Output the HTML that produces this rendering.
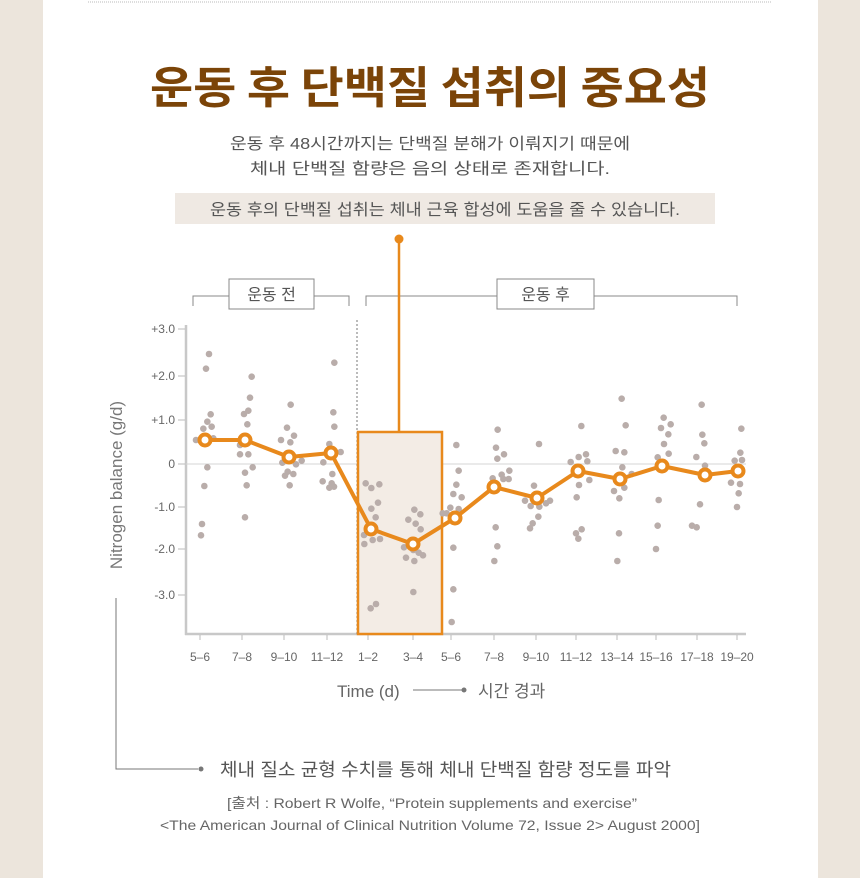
<!DOCTYPE html>
<html><head><meta charset="utf-8"><style>
html,body{margin:0;padding:0;background:#ece5dc;}
svg{display:block}
text{font-family:"Liberation Sans","Noto Sans CJK KR",sans-serif;}
</style></head><body>
<svg id="s" width="860" height="878" viewBox="0 0 860 878" xmlns="http://www.w3.org/2000/svg">
<rect x="0" y="0" width="860" height="878" fill="#ece5dc"/>
<rect x="43" y="0" width="775" height="878" fill="#fff"/>
<line x1="88" y1="2" x2="772" y2="2" stroke="#ddd" stroke-width="2" stroke-dasharray="1,1"/>
<text x="430" y="103" text-anchor="middle" font-size="44" font-weight="bold" fill="#7b4408" textLength="560" lengthAdjust="spacingAndGlyphs" style="font-family:'Noto Sans CJK KR',sans-serif">운동 후 단백질 섭취의 중요성</text>
<text x="430" y="149" text-anchor="middle" font-size="16" fill="#555" textLength="400" lengthAdjust="spacingAndGlyphs">운동 후 48시간까지는 단백질 분해가 이뤄지기 때문에</text>
<text x="430" y="174" text-anchor="middle" font-size="16" fill="#555" textLength="360" lengthAdjust="spacingAndGlyphs">체내 단백질 함량은 음의 상태로 존재합니다.</text>
<rect x="175" y="193" width="540" height="31" fill="#efe9e3"/>
<text x="445" y="215" text-anchor="middle" font-size="16" fill="#555" textLength="470" lengthAdjust="spacingAndGlyphs">운동 후의 단백질 섭취는 체내 근육 합성에 도움을 줄 수 있습니다.</text>
<!-- brackets -->
<g stroke="#888" stroke-width="1" fill="none">
<polyline points="193,306 193,296 229,296"/><polyline points="314,296 349,296 349,306"/>
<polyline points="366,306 366,296 497,296"/><polyline points="594,296 737,296 737,306"/>
</g>
<rect x="229" y="279" width="85" height="30" fill="#fff" stroke="#888"/>
<text x="271.5" y="300" text-anchor="middle" font-size="16" fill="#555">운동 전</text>
<rect x="497" y="279" width="97" height="30" fill="#fff" stroke="#888"/>
<text x="545.5" y="300" text-anchor="middle" font-size="16" fill="#555">운동 후</text>
<!-- axes -->
<line x1="186" y1="325" x2="186" y2="635" stroke="#c8c8c8" stroke-width="2.5"/>
<line x1="185" y1="634" x2="746" y2="634" stroke="#c8c8c8" stroke-width="2.5"/>
<line x1="186" y1="464" x2="746" y2="464" stroke="#d4d4d4" stroke-width="1"/>
<line x1="357" y1="320" x2="357" y2="634" stroke="#777" stroke-width="1" stroke-dasharray="2,2"/>
<g font-size="12" fill="#666" text-anchor="end" id="yt"></g>
<g font-size="12" fill="#666" text-anchor="middle" id="xt"></g>
<rect x="358" y="432" width="84" height="202" fill="#f3ece5" stroke="#e8891c" stroke-width="2.5"/>
<line x1="399" y1="239" x2="399" y2="432" stroke="#e8891c" stroke-width="2.5"/>
<circle cx="399" cy="239" r="4.5" fill="#e8891c"/>
<g id="dots" fill="#b9adaa"></g>
<polyline id="ln" fill="none" stroke="#e8891c" stroke-width="4" stroke-linejoin="round"/>
<g id="mk" fill="#fff" stroke="#e8891c" stroke-width="4"></g>
<text transform="translate(122,485) rotate(-90)" text-anchor="middle" font-size="17" fill="#777">Nitrogen balance (g/d)</text>
<polyline points="116,598 116,769 198,769" fill="none" stroke="#777" stroke-width="1"/>
<circle cx="201" cy="769" r="2.5" fill="#777"/>
<text x="220" y="776" font-size="18" fill="#555" textLength="451" lengthAdjust="spacingAndGlyphs">체내 질소 균형 수치를 통해 체내 단백질 함량 정도를 파악</text>
<text x="337" y="697" font-size="17" fill="#666">Time (d)</text>
<line x1="413" y1="690" x2="462" y2="690" stroke="#777"/>
<circle cx="464" cy="690" r="2.5" fill="#777"/>
<text x="478" y="697" font-size="17" fill="#666">시간 경과</text>
<text x="432" y="808" text-anchor="middle" font-size="14" fill="#666" textLength="410" lengthAdjust="spacingAndGlyphs">[출처 : Robert R Wolfe, “Protein supplements and exercise”</text>
<text x="430" y="830" text-anchor="middle" font-size="14" fill="#666" textLength="540" lengthAdjust="spacingAndGlyphs">&lt;The American Journal of Clinical Nutrition Volume 72, Issue 2&gt; August 2000]</text>
</svg>
<script>
var NS="http://www.w3.org/2000/svg";
function el(p,t,a,txt){var e=document.createElementNS(NS,t);for(var k in a)e.setAttribute(k,a[k]);if(txt)e.textContent=txt;document.getElementById(p).appendChild(e);return e;}
var yt=[["+3.0",329],["+2.0",376],["+1.0",420],["0",464],["-1.0",507],["-2.0",549],["-3.0",595]];
yt.forEach(function(t){el("yt","text",{x:175,y:t[1]+4},t[0]);el("yt","line",{x1:178,y1:t[1],x2:185,y2:t[1],stroke:"#bbb"});});
var xs=[200,242,284,327,368,413,451,494,536,576,617,656,697,737];
var xl=["5–6","7–8","9–10","11–12","1–2","3–4","5–6","7–8","9–10","11–12","13–14","15–16","17–18","19–20"];
xs.forEach(function(x,i){el("xt","text",{x:x,y:661},xl[i]);el("xt","line",{x1:x,y1:635,x2:x,y2:640,stroke:"#bbb"});});
var z1=[[87,102],[78,146],[92,283],[82,305],[70,326],[95,320],[100,355],[48,360],[82,442],[73,498],[66,612],[63,646],
[215,170],[210,233],[205,272],[192,282],[202,313],[180,375],[180,403],[205,403],[218,442],[195,458],[200,496],[195,592],
[332,254],[321,323],[342,347],[331,367],[303,360],[307,428],[323,455],[340,462],[315,467],[329,496],[348,433],[365,422],
[463,128],[460,277],[463,320],[448,372],[482,396],[430,427],[457,462],[428,484],[455,490],[462,500],[448,503],
[557,490],[574,504],[598,493],[594,548],[574,566],[587,592],[552,645],[578,660],[553,672],[600,657],[572,865],[588,852],
[703,569],[721,583],[685,599],[707,611],[722,628],[672,682],[700,690],[716,698],[729,706],[678,713],[703,723],[700,816],
[829,375],[836,452],[829,494],[820,522],[845,532],[811,563],[836,567],[788,580],[800,580],[820,683],[820,808],[815,906]];
var z2=[[173,149],[168,203],[172,236],[192,223],[208,272],[185,284],[190,297],[206,297],[158,295],[167,442],[172,499],[163,543],
[297,192],[282,317],[255,362],[272,378],[298,380],[318,370],[330,362],[295,410],[278,430],[270,445],
[424,138],[416,231],[392,246],[438,223],[442,244],[448,300],[417,315],[410,352],[408,460],[425,448],[415,476],
[545,56],[557,136],[527,213],[553,217],[547,262],[575,282],[553,323],[522,333],[538,355],[537,460],[532,543],
[671,113],[692,133],[663,144],[685,163],[672,192],[686,221],[653,232],[656,360],[653,437],[648,507],
[785,74],[787,164],[793,190],[769,231],[795,257],[780,373],[756,437],[770,442],
[904,146],[901,218],[884,242],[906,240],[873,308],[900,312],[896,340],[891,381]];
z1.forEach(function(p){el("dots","circle",{cx:180+p[0]/3,cy:320+p[1]/3,r:3.3});});
z2.forEach(function(p){el("dots","circle",{cx:440+p[0]/3,cy:380+p[1]/3,r:3.3});});
var px=[205,245,289,331,371,413,455,494,537,578,620,662,705,738],py=[440,440,457,453,529,544,518,487,498,471,479,466,475,471];
document.getElementById("ln").setAttribute("points",px.map(function(x,i){return x+","+py[i]}).join(" "));
px.forEach(function(x,i){el("mk","circle",{cx:x,cy:py[i],r:5.5});});
</script>
</body></html>
